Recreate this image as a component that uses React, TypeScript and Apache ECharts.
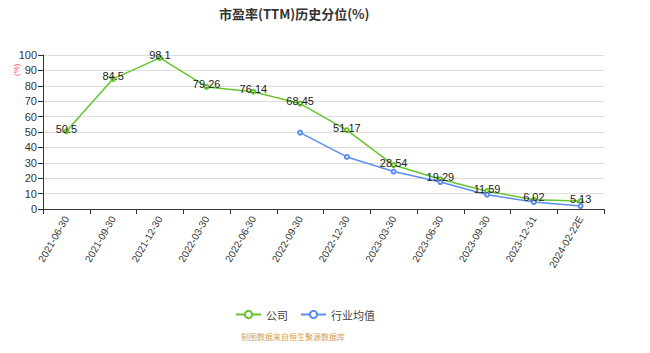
import React, { useEffect, useRef } from "react";
import * as echarts from "echarts";

const categories = [
  "2021-06-30", "2021-09-30", "2021-12-30", "2022-03-30", "2022-06-30", "2022-09-30",
  "2022-12-30", "2023-03-30", "2023-06-30", "2023-09-30", "2023-12-31", "2024-02-22E",
];
const companyValues = [50.5, 84.5, 98.1, 79.26, 76.14, 68.45, 51.17, 28.54, 19.29, 11.59, 6.02, 5.13];
const industryValues: (number | null)[] = [null, null, null, null, null, 49.6, 33.8, 24.3, 17.5, 9.3, 4.5, 1.9];
const yTicks = { min: 0, max: 100, interval: 10 };

export default function App() {
  const ref = useRef<HTMLDivElement>(null);
  useEffect(() => {
    document.body.style.margin = "0";
    const chart = echarts.init(ref.current!, null, { renderer: "svg" });
    chart.setOption({
      animation: false,
      title: {
        text: "市盈率(TTM)历史分位(%)",
        left: 214,
        top: 2,
        textStyle: { fontSize: 13, fontWeight: "bold", color: "#333", fontFamily: "Noto Sans CJK SC" },
      },
      grid: { left: 43, right: 46, top: 55, bottom: 144 },
      legend: {
        left: 230,
        top: 304,
        itemWidth: 25,
        itemHeight: 9,
        itemGap: 12,
        textStyle: { fontSize: 11, color: "#444", fontFamily: "Noto Sans CJK SC" },
        data: ["公司", "行业均值"],
      },
      xAxis: {
        type: "category",
        data: categories,
        boundaryGap: true,
        axisLine: { lineStyle: { color: "#333" } },
        axisTick: { show: true, alignWithLabel: false, lineStyle: { color: "#333" } },
        axisLabel: { rotate: 60, fontSize: 10, color: "#333", interval: 0, margin: 8 },
      },
      yAxis: {
        type: "value",
        min: yTicks.min,
        max: yTicks.max,
        interval: yTicks.interval,
        axisLine: { show: true, lineStyle: { color: "#333" } },
        axisTick: { show: true, lineStyle: { color: "#333" } },
        axisLabel: { fontSize: 11, color: "#333", margin: 6 },
        splitLine: { lineStyle: { color: "#ddd" } },
      },
      series: [
        {
          name: "公司",
          type: "line",
          data: companyValues,
          symbol: "emptyCircle",
          symbolSize: 4,
          showSymbol: true,
          itemStyle: { color: "#66c42d", borderColor: "#66c42d" },
          lineStyle: { color: "#66c42d", width: 1.5 },
          label: {
            show: true,
            position: "top",
            distance: -6,
            fontSize: 11,
            color: "#222",
          },
        },
        {
          name: "行业均值",
          type: "line",
          data: industryValues,
          symbol: "emptyCircle",
          symbolSize: 4,
          itemStyle: { color: "#5b8def", borderColor: "#5b8def" },
          lineStyle: { color: "#5b8def", width: 1.5 },
        },
      ],
      graphic: [
        {
          type: "text",
          x: 12,
          y: 76,
          rotation: Math.PI / 2,
          style: {
            text: "(%)",
            fill: "#ff5555",
            fontSize: 8,
          },
        },
        {
          type: "text",
          left: 241,
          top: 332,
          style: {
            text: "制图数据来自恒生聚源数据库",
            fill: "#d4a24c",
            fontSize: 8,
            fontFamily: "Noto Sans CJK SC",
          },
        },
      ],
    });
    return () => chart.dispose();
  }, []);
  return <div ref={ref} style={{ width: 650, height: 353 }} />;
}
